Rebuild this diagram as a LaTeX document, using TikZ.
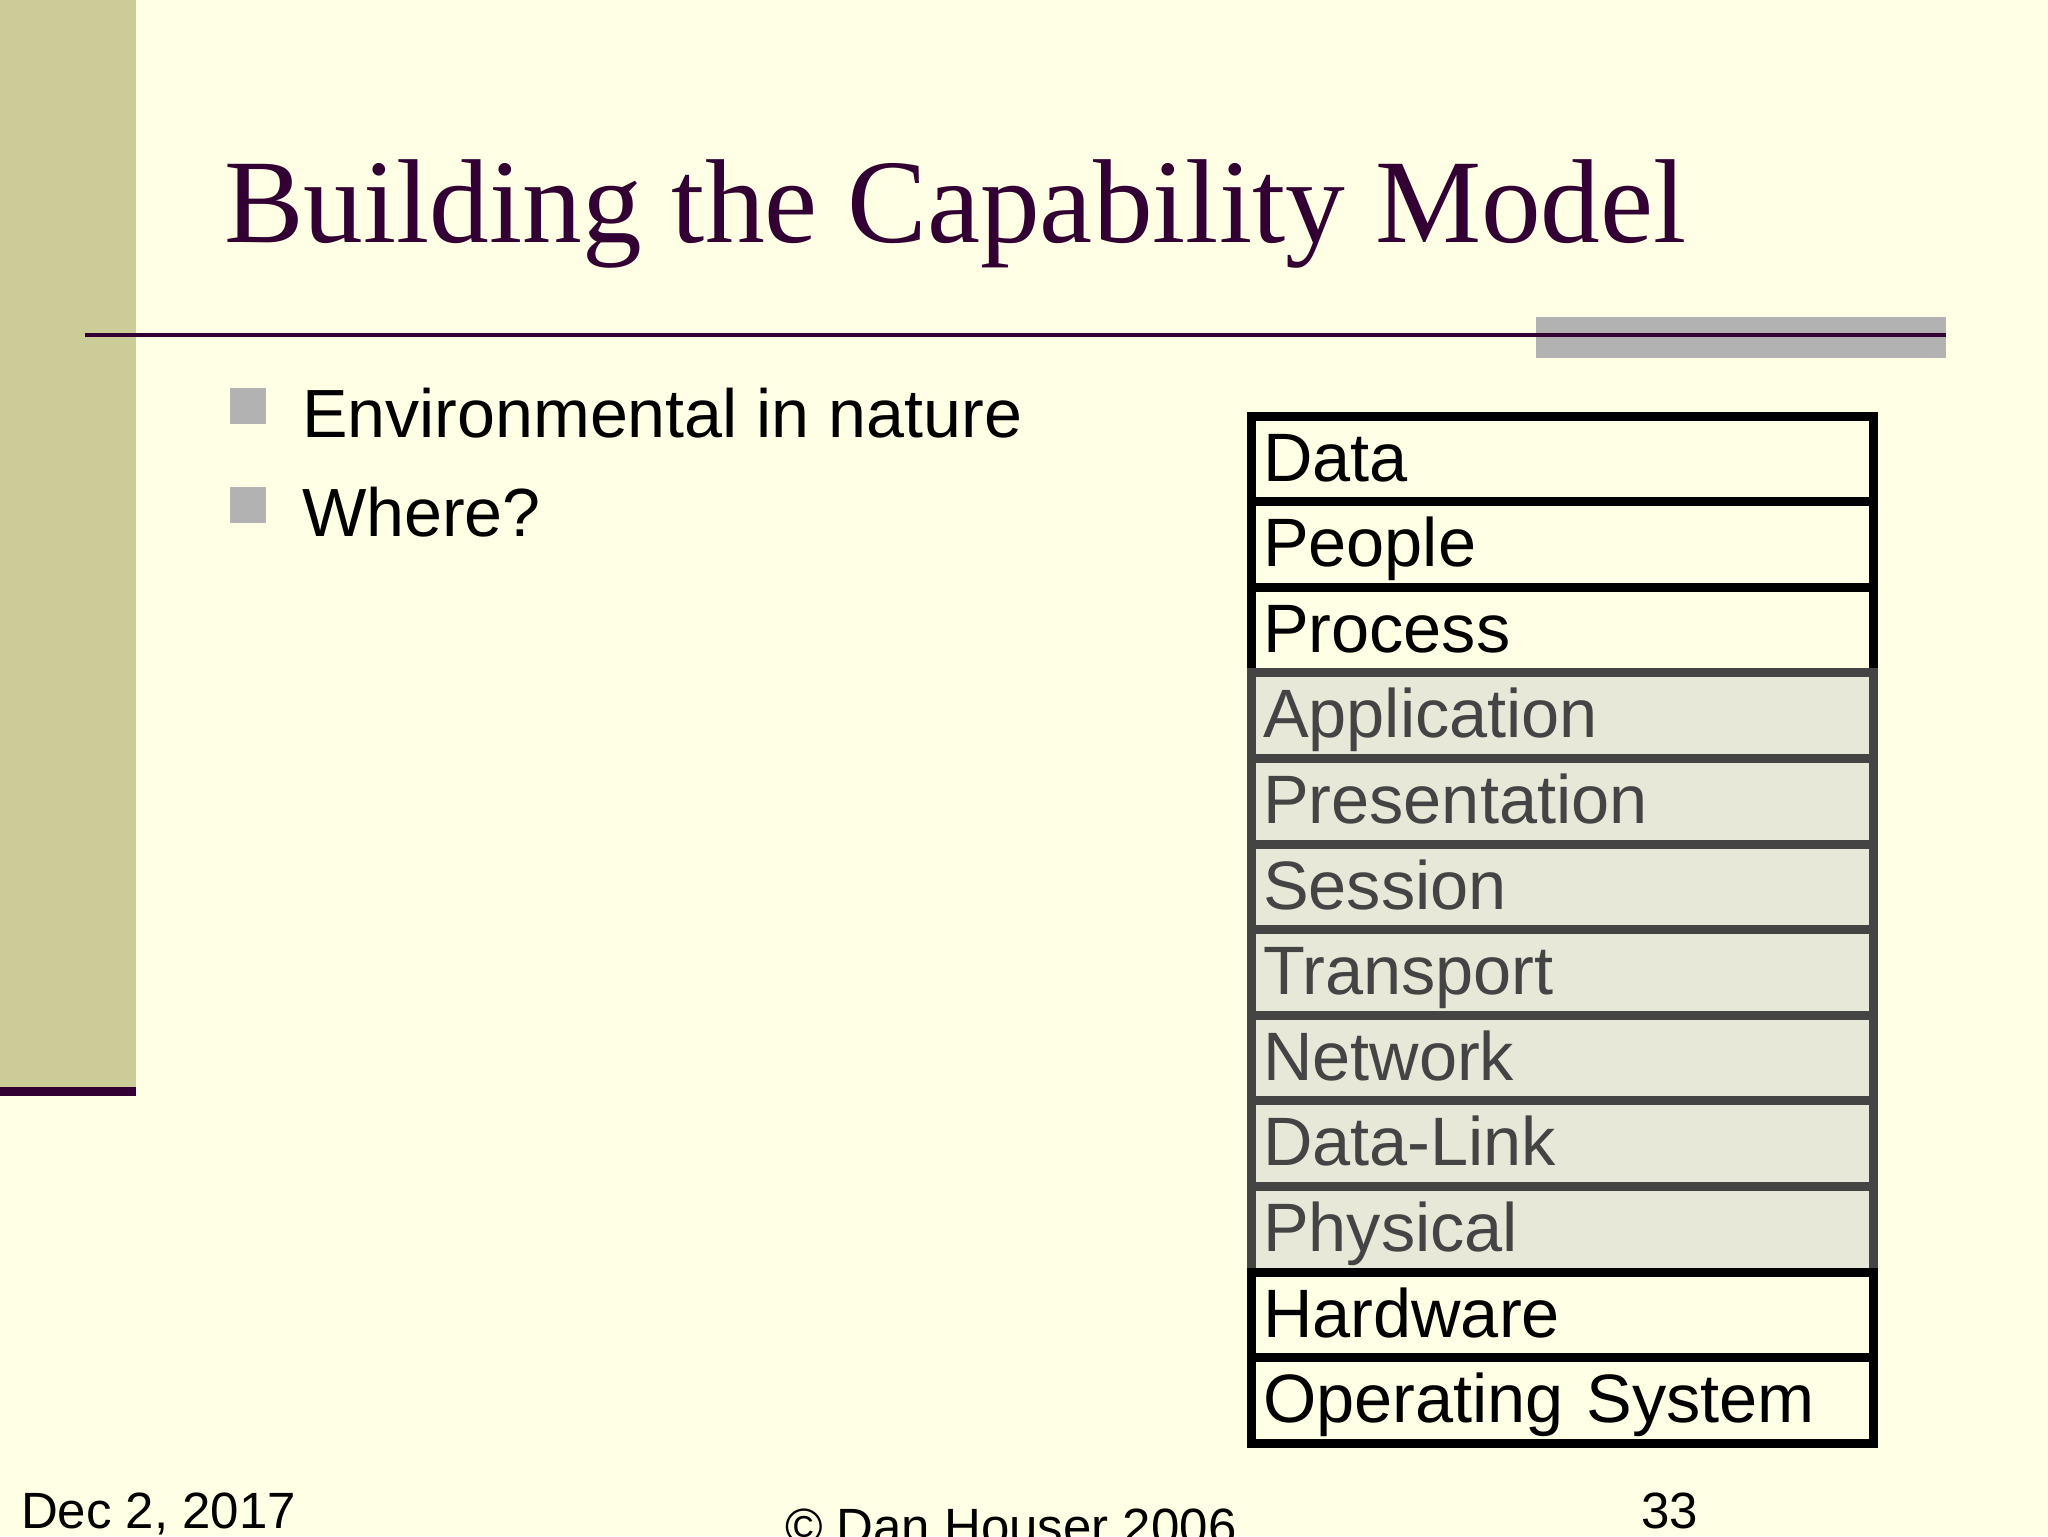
\documentclass[tikz,border=0pt]{standalone}
\usepackage{fontspec}
\setmainfont{Liberation Sans}
\newfontfamily\titlefont{Liberation Serif}
\usepackage{xcolor}
\usetikzlibrary{positioning}
\definecolor{slidebg}{HTML}{FFFFE5}
\definecolor{sidebar}{HTML}{CCCC99}
\definecolor{plum}{HTML}{330033}
\definecolor{bulletgray}{HTML}{B2B2B2}
\definecolor{osifill}{HTML}{E8E8D8}
\definecolor{osiline}{HTML}{444444}

\begin{document}
\begin{tikzpicture}[x=0.5pt, y=-0.5pt,
  every node/.style={inner sep=0pt, outer sep=0pt},
  bodytext/.style={anchor=base west, font=\fontsize{34.1}{40}\selectfont},
  foottext/.style={anchor=base west, font=\fontsize{25.5}{30}\selectfont},
  bulletsq/.style={fill=bulletgray, minimum size=18pt},
  stackrow/.style={draw=black, fill=slidebg, line width=4.5pt,
    minimum width=309pt, minimum height=42.8pt, text width=299pt,
    inner xsep=6pt, align=left, text height=24pt, text depth=1.8pt,
    font=\fontsize{34.25}{40}\selectfont},
  osirow/.style={stackrow, draw=osiline, fill=osifill, text=osiline}]
\clip (0,0) rectangle (2048,1536);
\fill[slidebg] (0,0) rectangle (2048,1536);
\fill[sidebar] (0,0) rectangle (136,1087);
\fill[plum] (0,1087) rectangle (136,1096);

\node[anchor=base west, text=plum, font=\titlefont\fontsize{59.7}{72}\selectfont]
  (title) at (224,242) {Building the Capability Model};
\fill[bulletgray] (1536,317) rectangle (1946,358);
\draw[plum, line width=2.25pt] (85,335) -- (1946,335);

\node[bulletsq] (b1) at (248,405.5) {};
\node[bulletsq] (b2) at (248,505) {};
\node[bodytext] (env) at (302,437) {Environmental in nature};
\node[bodytext] (where) at (302,536) {Where?};

\node[stackrow, anchor=north west] (data) at (1251,416) {Data};
\node[stackrow, below=0pt of data] (people) {People};
\node[stackrow, below=0pt of people] (process) {Process};
\node[osirow, below=0pt of process] (application) {Application};
\node[osirow, below=0pt of application] (presentation) {Presentation};
\node[osirow, below=0pt of presentation] (session) {Session};
\node[osirow, below=0pt of session] (transport) {Transport};
\node[osirow, below=0pt of transport] (network) {Network};
\node[osirow, below=0pt of network] (datalink) {Data-Link};
\node[osirow, below=0pt of datalink] (physical) {Physical};
\node[stackrow, below=0pt of physical] (hardware) {Hardware};
\node[stackrow, below=0pt of hardware] (os) {Operating System};

\node[foottext] (date) at (21,1528) {Dec 2, 2017};
\node[foottext] (copy) at (785,1544) {© Dan Houser 2006};
\node[foottext] (page) at (1641,1528) {33};
\end{tikzpicture}
\end{document}
